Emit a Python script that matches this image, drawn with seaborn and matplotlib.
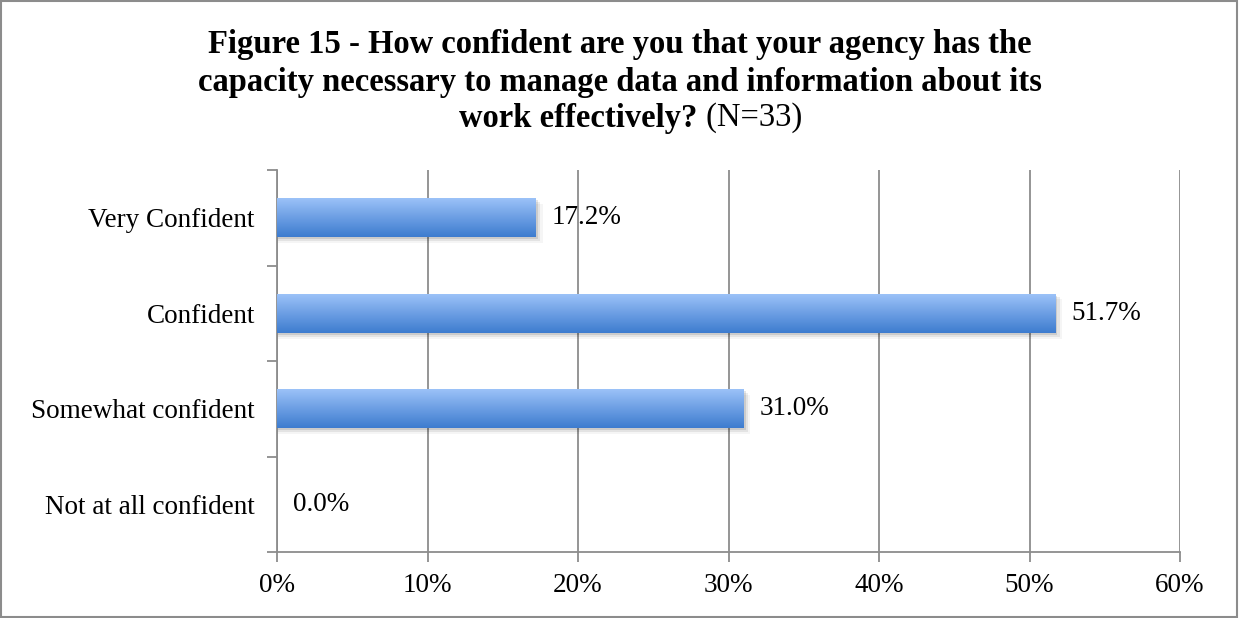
import numpy as np
import pandas as pd
import matplotlib
matplotlib.use("Agg")
import matplotlib.pyplot as plt
import seaborn as sns
from matplotlib.colors import LinearSegmentedColormap
from matplotlib.patches import Rectangle

categories = ["Very Confident", "Confident", "Somewhat confident", "Not at all confident"]
values = [17.2, 51.7, 31.0, 0.0]
xticks = [0, 10, 20, 30, 40, 50, 60]
xtick_labels = ["0%", "10%", "20%", "30%", "40%", "50%", "60%"]

df = pd.DataFrame({"category": categories, "value": values})

sns.set_theme(style="white")
plt.rcParams["font.family"] = ["Liberation Serif", "DejaVu Serif"]
plt.rcParams["text.color"] = "black"
plt.rcParams["xtick.color"] = "#8c8c8c"
plt.rcParams["ytick.color"] = "#8c8c8c"
plt.rcParams["xtick.labelcolor"] = "black"
plt.rcParams["ytick.labelcolor"] = "black"

fig = plt.figure(figsize=(12.39, 6.18), dpi=100)
ax = fig.add_axes([277 / 1239, 1 - 552 / 618, (1180 - 277) / 1239, (552 - 170) / 618])

sns.barplot(data=df, x="value", y="category", orient="h", ax=ax,
            color="#5b93de", width=0.41, linewidth=0, zorder=3)

ax.set_xlim(0, 60)
ax.set_ylim(3.5, -0.5)

# gradient fill (light top, darker bottom) and soft shadow for each bar
cmap = LinearSegmentedColormap.from_list("barblue", ["#9ec4f9", "#6d9fe4", "#3d7ccf"])
grad = np.linspace(0, 1, 256).reshape(-1, 1)
for p in list(ax.patches):
    x0, y0 = p.get_x(), p.get_y()
    w, h = p.get_width(), p.get_height()
    if w <= 0:
        continue
    for k, a in enumerate([0.10, 0.07, 0.04]):
        off = 0.02 * (k + 1)
        ax.add_patch(Rectangle((x0, y0 + off), w + 0.15 * (k + 1), h, color="black",
                               alpha=a, linewidth=0, zorder=2))
    im = ax.imshow(grad, cmap=cmap, aspect="auto", extent=(x0, x0 + w, y0 + h, y0),
                   origin="upper", zorder=4, interpolation="bicubic")
    im.set_clip_path(p)
    p.set_facecolor("none")

fs = 19.5
for i, v in enumerate(values):
    ax.text(v + 1.05, i, f"{v:.1f}%", va="center", ha="left", fontsize=fs, color="black", zorder=5)

ax.set_xticks(xticks)
ax.set_xticklabels(xtick_labels, fontsize=fs)
ax.set_yticks(range(len(categories)))
ax.set_yticklabels(categories, fontsize=fs)
ax.set_xlabel("")
ax.set_ylabel("")

grid_c = "#8c8c8c"
ax.grid(axis="x", color=grid_c, linewidth=1.3, zorder=0)
ax.grid(axis="y", visible=False)
ax.set_axisbelow(True)
for s in ["top", "right"]:
    ax.spines[s].set_visible(False)
for s in ["left", "bottom"]:
    ax.spines[s].set_color(grid_c)
    ax.spines[s].set_linewidth(1.3)

# ticks on category boundaries for the y axis
ax.set_yticks(np.arange(-0.5, 4.0, 1.0), minor=True)
ax.tick_params(axis="y", which="major", left=True, length=0, pad=16)
ax.tick_params(axis="y", which="minor", left=True, length=7, color=grid_c, width=1.3, direction="out")
ax.tick_params(axis="x", which="major", bottom=True, length=7, color=grid_c, width=1.3,
               direction="out", pad=8)

tfs = 23.5
fig.text(0.5, 1 - 45 / 618, "Figure 15 - How confident are you that your agency has the",
         ha="center", va="center", fontsize=tfs, fontweight="bold")
fig.text(0.5, 1 - 82 / 618, "capacity necessary to manage data and information about its",
         ha="center", va="center", fontsize=tfs, fontweight="bold")
fig.text(0.563, 1 - 118 / 618, "work effectively?", ha="right", va="center",
         fontsize=tfs, fontweight="bold")
fig.text(0.563, 1 - 118 / 618, " (N=33)", ha="left", va="center", fontsize=tfs)

fig.add_artist(Rectangle((0.001, 0.002), 0.997, 0.996, transform=fig.transFigure,
                         fill=False, edgecolor="#8c8c8c", linewidth=1.5))

fig.savefig("out.png", dpi=100)
